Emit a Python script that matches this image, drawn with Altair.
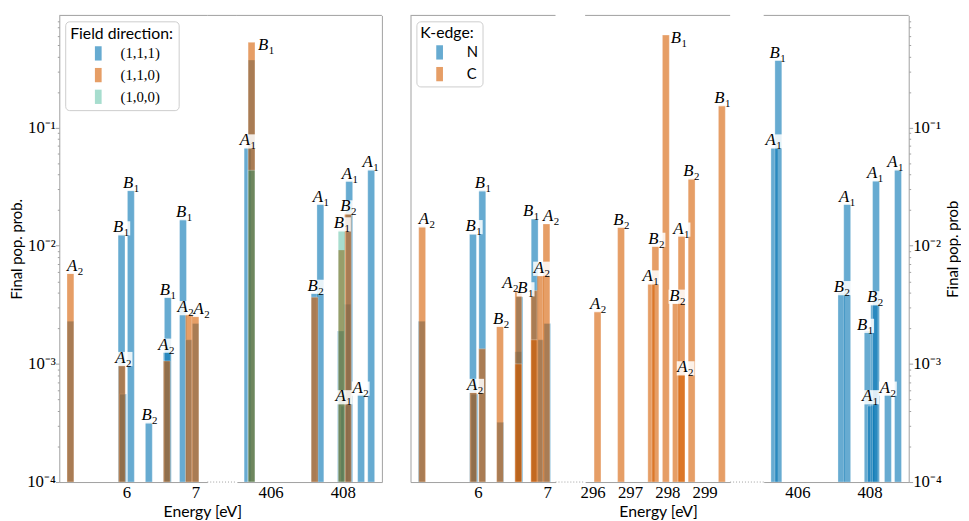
import altair as alt
import pandas as pd

# ---------------- data ----------------
# N K-edge (right panel) == field direction (1,1,1) (left panel)
N_E = [5.19, 5.93, 5.95, 6.065, 6.325, 6.585, 6.60, 6.82, 6.905, 7.0,
       405.36, 405.47, 407.22, 407.38, 407.95, 408.04, 408.13, 408.18, 408.51, 408.79]
N_V = [2.3e-3, 0.0125, 5.55e-4, 0.0297, 3.2e-4, 1.27e-3, 3.7e-3, 0.0168, 1.6e-3, 2.2e-3,
       0.068, 0.373, 4.0e-3, 0.0227, 1.9e-3, 4.4e-4, 3.2e-3, 0.0357, 5.5e-4, 0.0443]
# field direction (1,1,0)
F110_E = [5.19, 5.935, 6.585, 6.905, 7.0, 405.47, 407.22, 407.97, 408.145]
F110_V = [5.9e-3, 9.8e-4, 1.06e-3, 2.64e-3, 2.55e-3, 0.527, 3.67e-3, 9.2e-3, 0.0188]
# field direction (1,0,0)
F100_E = [405.47, 407.97]
F100_V = [0.0435, 0.0135]
# C K-edge
C_E = [5.197, 5.935, 6.063, 6.32, 6.585, 6.585, 6.815, 6.815, 6.905, 6.99,
       296.13, 296.76, 297.57, 297.68, 297.96, 298.23, 298.38, 298.38, 298.65, 299.46]
C_V = [0.0146, 5.8e-4, 1.34e-3, 2.1e-3, 4.2e-3, 1.0e-3, 4.17e-3, 1.6e-3, 5.55e-3, 0.0153,
       2.8e-3, 0.0145, 4.8e-3, 0.0100, 0.607, 3.25e-3, 8.2e-4, 0.0122, 0.0372, 0.155]

# state labels (energy of label centre, level of label, letter, subscript)
L_LAB_E = [5.26, 5.927, 5.96, 6.07, 6.337, 6.604, 6.58, 6.837, 6.86, 7.093,
           405.375, 405.88, 407.25, 407.40, 407.98, 408.03, 408.16, 408.20, 408.50, 408.78]
L_LAB_V = [5.9e-3, 0.0125, 9.8e-4, 0.0297, 3.2e-4, 3.7e-3, 1.27e-3, 0.0168, 2.64e-3, 2.55e-3,
           0.068, 0.44, 4.0e-3, 0.0227, 0.0135, 4.65e-4, 0.0188, 0.0356, 5.5e-4, 0.0443]
L_LAB_T = list("ABABBBABAAABBABABAAA")
L_LAB_S = list("21212121221121112121")

R_LAB_E = [5.268, 5.942, 5.962, 6.075, 6.34, 6.473, 6.69, 6.771, 6.926, 7.059,
           296.147, 296.775, 297.556, 297.71, 298.31, 298.27, 298.38, 298.49, 298.65, 299.48,
           405.34, 405.455, 407.24, 407.38, 407.88, 408.02, 408.16, 408.16, 408.51, 408.72]
R_LAB_V = [0.0146, 0.0128, 5.8e-4, 0.0295, 2.1e-3, 4.2e-3, 3.81e-3, 0.0172, 5.69e-3, 0.0157,
           2.8e-3, 0.0145, 4.8e-3, 0.0100, 0.497, 3.3e-3, 0.0122, 8.17e-4, 0.0372, 0.155,
           0.068, 0.376, 3.9e-3, 0.0227, 1.87e-3, 4.65e-4, 3.2e-3, 0.0358, 5.5e-4, 0.0443]
R_LAB_T = list("ABABBABBAA" "ABABBBAABB" "ABBABABAAA")
R_LAB_S = list("2121221122" "2212121221" "1121112121")

FIELD_NAMES = ["(1,1,1)", "(1,1,0)", "(1,0,0)"]
EDGE_NAMES = ["N", "C"]

Y_DECADES = [0.0001, 0.001, 0.01, 0.1]
Y_DECADE_LABELS = ["10⁻⁴", "10⁻³", "10⁻²", "10⁻¹"]
SUB1_TICKS = [6, 7]
SUB2_TICKS = [296, 297, 298, 299]
SUB3_TICKS = [406, 408]

# ---------------- styling ----------------
BLUE = "rgba(1,115,178,0.6)"
ORANGE = "rgba(213,94,0,0.6)"
TEAL = "rgba(2,158,115,0.35)"
GRAY = "#a0a0a0"
SANS = "Lato"
SERIF = "Liberation Serif"
H = 473
YTOP = 0.89
BOX = "M-1,-0.8L1,-0.8L1,0.8L-1,0.8Z"
RECT = "M-0.47,-1L0.47,-1L0.47,1L-0.47,1Z"
ONE = pd.DataFrame({"a": [0]})

Y_MINOR = [m * d for d in Y_DECADES for m in range(2, 10) if m * d < YTOP]
LABEL_EXPR = " : ".join(
    f"datum.value === {v} ? '{t}'" for v, t in zip(Y_DECADES, Y_DECADE_LABELS)
) + " : ''"
TICK_SIZE = {"condition": {"test": "indexof([0.0001,0.001,0.01,0.1], datum.value) >= 0",
                           "value": 4}, "value": 2}


def frame(E, V, name):
    return pd.DataFrame({"E": E, "v": V, "series": name})


left_bars = pd.concat([frame(N_E, N_V, FIELD_NAMES[0]),
                       frame(F110_E, F110_V, FIELD_NAMES[1]),
                       frame(F100_E, F100_V, FIELD_NAMES[2])], ignore_index=True)
right_bars = pd.concat([frame(N_E, N_V, EDGE_NAMES[0]),
                        frame(C_E, C_V, EDGE_NAMES[1])], ignore_index=True)
left_labels = pd.DataFrame({"E": L_LAB_E, "v": L_LAB_V, "t": L_LAB_T, "s": L_LAB_S})
right_labels = pd.DataFrame({"E": R_LAB_E, "v": R_LAB_V, "t": R_LAB_T, "s": R_LAB_S})


def main_y_axis(orient, title):
    kw = dict(orient=orient, values=Y_DECADES + Y_MINOR, labelExpr=LABEL_EXPR,
              title=title, titleFont=SANS, titleFontSize=15, titleFontWeight="normal",
              titleColor="black", labelFont=SERIF, labelFontSize=17, labelColor="black",
              domainColor=GRAY, tickColor=GRAY, tickSize=TICK_SIZE, grid=False,
              labelPadding=0, titlePadding=2, labelOverlap=False)
    if orient == "right":
        kw.update(titleAngle=270, titleBaseline="top", titlePadding=5)
    return alt.Axis(**kw)


def spine_axis(orient):
    return alt.Axis(orient=orient, labels=False, ticks=False, title=None,
                    domainColor=GRAY, grid=False)


def subchart(bars, labels, lo, hi, width, ticks, dom, rng, legend=None,
             yaxis=None, xtitle=None, xtitle_x=None):
    b = bars[(bars.E >= lo - 1) & (bars.E <= hi + 1)]
    lab = labels[(labels.E >= lo - 1) & (labels.E <= hi + 1)]
    xax = dict(values=ticks, labelFont=SERIF, labelFontSize=17, labelColor="black",
               ticks=False, domainColor=GRAY, grid=False, labelPadding=3,
               labelFlush=False)
    if xtitle:
        xax.update(title=xtitle, titleFont=SANS, titleFontSize=16,
                   titleFontWeight="normal", titleColor="black", titleX=xtitle_x,
                   titleAlign="center", titlePadding=3)
    else:
        xax.update(title=None)
    xenc = alt.X("E:Q", scale=alt.Scale(domain=[lo, hi], nice=False, zero=False),
                 axis=alt.Axis(**xax))
    yenc = alt.Y("v:Q", stack=None,
                 scale=alt.Scale(type="log", domain=[1e-4, YTOP], nice=False),
                 axis=yaxis)
    bar_layer = alt.Chart(b).mark_bar(size=7, stroke="white", strokeWidth=0.6,
                                      strokeOpacity=0.5, clip=True).encode(
        x=xenc, y=yenc, y2=alt.Y2Datum(1e-4),
        color=alt.Color("series:N", scale=alt.Scale(domain=dom, range=rng),
                        legend=legend))
    box_layer = alt.Chart(lab).mark_point(shape=BOX, filled=True, fill="white",
                                          opacity=0.85, size=324, strokeWidth=0,
                                          yOffset=-6).encode(x=xenc, y=yenc)
    let_layer = alt.Chart(lab).mark_text(font=SERIF, fontStyle="italic", fontSize=17,
                                         align="right", baseline="alphabetic",
                                         dx=2, dy=-2, color="black").encode(
        x=xenc, y=yenc, text="t:N")
    sub_layer = alt.Chart(lab).mark_text(font=SERIF, fontSize=11, align="left",
                                         baseline="alphabetic", dx=2.5, dy=2,
                                         color="black").encode(
        x=xenc, y=yenc, text="s:N")
    top_layer = alt.Chart(ONE).mark_rule(color=GRAY, strokeWidth=1).encode(
        x=alt.value(0), x2=alt.value(width), y=alt.value(0))
    return alt.layer(bar_layer, box_layer, let_layer, sub_layer, top_layer).properties(
        width=width, height=H)


def spacer(width, top=False, bottom=True):
    layers = [alt.Chart(ONE).mark_rule(color=GRAY, strokeWidth=1, strokeDash=[1, 2],
                                       strokeOpacity=1 if bottom else 0).encode(
        x=alt.value(0), x2=alt.value(width), y=alt.value(H))]
    if top:
        layers.append(alt.Chart(ONE).mark_rule(color=GRAY, strokeWidth=1).encode(
            x=alt.value(0), x2=alt.value(width), y=alt.value(0)))
    return alt.layer(*layers).properties(width=width, height=H)


left_legend = alt.Legend(title="Field direction:", orient="top-left", offset=6,
                         padding=5, fillColor="white", strokeColor="#cccccc",
                         cornerRadius=4, titleFont=SANS, titleFontSize=16,
                         titleFontWeight="normal", titleColor="black", titlePadding=4,
                         labelFont=SERIF, labelFontSize=15, labelColor="black",
                         symbolType=RECT, symbolSize=210, symbolStrokeWidth=0,
                         symbolOffset=21, labelOffset=15, rowPadding=6)
right_legend = alt.Legend(title="K-edge:", orient="top-left", offset=6,
                          padding=4, fillColor="white", strokeColor="#cccccc",
                          cornerRadius=4, titleFont=SANS, titleFontSize=16,
                          titleFontWeight="normal", titleColor="black", titlePadding=4,
                          labelFont=SANS, labelFontSize=15, labelColor="black",
                          symbolType=RECT, symbolSize=210, symbolStrokeWidth=0,
                          symbolOffset=12, labelOffset=20, rowPadding=6)

LDOM, LRNG = FIELD_NAMES, [BLUE, ORANGE, TEAL]
RDOM, RRNG = EDGE_NAMES, [BLUE, ORANGE]

charts = [
    subchart(left_bars, left_labels, 5.10, 7.10, 150, SUB1_TICKS, LDOM, LRNG,
             legend=left_legend, yaxis=main_y_axis("left", "Final pop. prob."),
             xtitle="Energy [eV]", xtitle_x=145),
    spacer(30, top=True),
    subchart(left_bars, left_labels, 405.2, 408.95, 147, SUB3_TICKS, LDOM, LRNG,
             yaxis=spine_axis("right")),
    spacer(29, bottom=False),
    subchart(right_bars, right_labels, 5.10, 7.05, 147, SUB1_TICKS, RDOM, RRNG,
             legend=right_legend, yaxis=spine_axis("left"),
             xtitle="Energy [eV]", xtitle_x=251),
    spacer(30),
    subchart(right_bars, right_labels, 295.93, 299.55, 147, SUB2_TICKS, RDOM, RRNG),
    spacer(34),
    subchart(right_bars, right_labels, 405.2, 408.95, 147, SUB3_TICKS, RDOM, RRNG,
             yaxis=main_y_axis("right", "Final pop. prob")),
]

chart = alt.hconcat(*charts, spacing=0, bounds="flush").resolve_scale(
    x="independent", y="independent", color="independent"
).resolve_legend(color="independent").properties(
    padding={"left": 2, "top": 0, "right": 0, "bottom": 0}
).configure_view(stroke=None)

chart.save("out.html", embed_options={"renderer": "svg", "actions": False})
